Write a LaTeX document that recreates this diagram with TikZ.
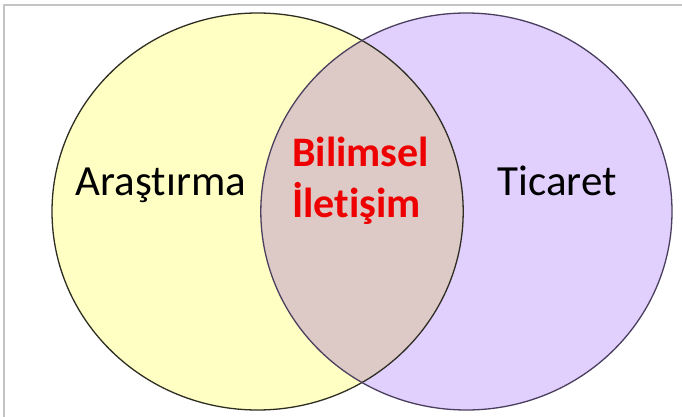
\documentclass[tikz,border=0pt]{standalone}
\usepackage{fontspec}
\setmainfont[Ligatures=CommonOff]{Carlito}
\definecolor{yfill}{HTML}{FFFFC4}
\definecolor{pfill}{HTML}{E1CFFD}
\definecolor{ifill}{HTML}{DDCAC6}
\definecolor{ystroke}{HTML}{2E2E22}
\definecolor{pstroke}{HTML}{4A3F5E}
\definecolor{redtxt}{HTML}{EE0000}
\definecolor{frame}{HTML}{C4C4C4}
\begin{document}
\begin{tikzpicture}[x=1pt,y=-1pt,
  label/.style={inner sep=0pt, font=\fontsize{43}{50}\selectfont, text=black},
  core/.style={inner sep=0pt, font=\fontsize{42}{50}\selectfont\bfseries, text=redtxt}]
\useasboundingbox (0,0) rectangle (682,417);
\fill[white] (0,0) rectangle (682,417);
\draw[frame, line width=1.6pt] (4,417) -- (4,5) -- (682,5);
% circles
\fill[yfill] (257.6,211.5) ellipse [x radius=205.6, y radius=198.5];
\fill[pfill] (466.4,211.5) ellipse [x radius=205.6, y radius=198.5];
\begin{scope}
  \clip (257.6,211.5) ellipse [x radius=205.6, y radius=198.5];
  \fill[ifill] (466.4,211.5) ellipse [x radius=205.6, y radius=198.5];
\end{scope}
\draw[ystroke, line width=1.3pt] (257.6,211.5) ellipse [x radius=205.6, y radius=198.5];
\draw[pstroke, line width=1.3pt] (466.4,211.5) ellipse [x radius=205.6, y radius=198.5];
% texts
\node[label, anchor=base] (arastirma) at (161,195) {Araştırma};
\node[label, anchor=base] (ticaret) at (557,195) {Ticaret};
\node[core, anchor=base west] (bilimsel) at (292,166) {Bilimsel};
\node[core, anchor=base west] (iletisim) at (292,217) {İletişim};
\end{tikzpicture}
\end{document}
